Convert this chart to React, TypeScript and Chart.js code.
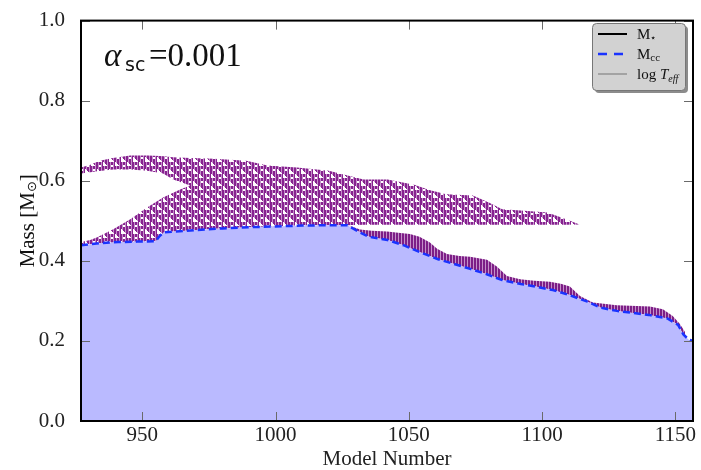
import React, { useEffect, useRef } from "react";
import { Chart, registerables } from "chart.js";

Chart.register(...registerables);

// ---- axis ranges / ticks ----
const X_MIN = 927;
const X_MAX = 1156.6;
const xTicks = [950, 1000, 1050, 1100, 1150];
const yTicks = [0, 0.2, 0.4, 0.6, 0.8, 1.0];

// ---- M_cc (convective core mass) ----
const mccModel = [927, 934, 941, 948, 955, 956.5, 958, 964, 970, 980, 990, 1000, 1010, 1020, 1027, 1029, 1032, 1035, 1042, 1048, 1054, 1061, 1067, 1073, 1079, 1085, 1092, 1098, 1104, 1110, 1117, 1122, 1128, 1134, 1140, 1147, 1151, 1153, 1155, 1156.6];
const mccMass = [0.439, 0.444, 0.447, 0.448, 0.449, 0.462, 0.471, 0.474, 0.477, 0.481, 0.484, 0.486, 0.488, 0.489, 0.489, 0.481, 0.470, 0.460, 0.452, 0.439, 0.422, 0.404, 0.392, 0.380, 0.367, 0.352, 0.342, 0.335, 0.327, 0.315, 0.298, 0.283, 0.275, 0.270, 0.265, 0.256, 0.240, 0.216, 0.203, 0.200];

// ---- upper mixing zone (top / bottom boundaries on one model grid) ----
const zoneModel = [927, 930.5, 934, 939, 945.5, 952, 956.5, 958, 961.5, 968, 977, 989, 997, 1008, 1020, 1027, 1033, 1042, 1052, 1058, 1064, 1074, 1080, 1085, 1092, 1102, 1109, 1114];
const zoneTopMass = [0.633, 0.640, 0.650, 0.657, 0.663, 0.663, 0.662, 0.661, 0.659, 0.657, 0.655, 0.650, 0.638, 0.633, 0.625, 0.613, 0.603, 0.603, 0.590, 0.576, 0.566, 0.563, 0.546, 0.529, 0.526, 0.521, 0.504, 0.491];
const zoneBottomMass = [0.439, 0.442, 0.444, 0.446, 0.447, 0.448, 0.449, 0.471, 0.473, 0.476, 0.480, 0.484, 0.486, 0.488, 0.489, 0.489, 0.490, 0.490, 0.490, 0.490, 0.490, 0.490, 0.490, 0.490, 0.490, 0.490, 0.490, 0.491];

// ---- unmixed wedge inside the zone (left) ----
const gapModel = [927, 930.5, 933.1, 939.1, 945.5, 951.8, 957.8, 961.6, 964.2, 968];
const gapUpperMass = [0.618, 0.621, 0.624, 0.628, 0.628, 0.625, 0.618, 0.603, 0.597, 0.588];
const gapLowerMass = [0.447, 0.452, 0.459, 0.479, 0.504, 0.533, 0.558, 0.570, 0.578, 0.588];

// ---- shell just above the receding core (right) ----
const shellModel = [1028, 1031.7, 1036, 1041.8, 1046, 1050.4, 1054, 1057.9, 1060.6, 1064.3, 1069, 1073, 1079.3, 1083, 1086.8, 1091.7, 1097, 1102.9, 1107, 1110.4, 1114.2, 1119, 1128, 1140.4, 1145.3, 1149, 1151.7, 1153.6];
const shellTopMass = [0.487, 0.478, 0.475, 0.473, 0.470, 0.467, 0.460, 0.446, 0.430, 0.417, 0.412, 0.410, 0.403, 0.386, 0.362, 0.354, 0.350, 0.348, 0.343, 0.336, 0.312, 0.296, 0.289, 0.286, 0.279, 0.262, 0.242, 0.222];

const SERIF = "'Liberation Serif', 'DejaVu Serif', serif";

function pts(xs: number[], ys: number[]) {
  return xs.map((x, i) => ({ x, y: ys[i] }));
}

function makePattern(sparse: boolean): CanvasPattern | string {
  const n = 12;
  const c = document.createElement("canvas");
  c.width = n;
  c.height = n;
  const g = c.getContext("2d");
  if (!g) return "#8a2a8f";
  for (let x = 0; x < n; x++) {
    g.fillStyle = x % 3 === 2 ? "#c490ca" : sparse ? "#86228f" : "#7d1e86";
    g.fillRect(x, 0, 1, n);
  }
  if (sparse) {
    g.fillStyle = "#ffffff";
    for (let r = 0; r < 5; r++) g.fillRect(1, 1 + r, r + 1, 1);
    for (let r = 0; r < 4; r++) g.fillRect(7, 6 + r, r + 1, 1);
    g.fillRect(9, 1, 2, 2);
    g.fillRect(3, 9, 2, 2);
  }
  const p = g.createPattern(c, "repeat");
  return p || "#8a2a8f";
}

const decor = {
  id: "decor",
  afterDatasetsDraw(chart: any) {
    const { ctx, chartArea: a, scales } = chart;
    ctx.save();
    ctx.strokeStyle = "#6a6a6a";
    ctx.lineWidth = 1;
    const L = 9;
    ctx.beginPath();
    for (const v of xTicks) {
      const px = Math.round(scales.x.getPixelForValue(v)) + 0.5;
      ctx.moveTo(px, a.bottom);
      ctx.lineTo(px, a.bottom - L);
      ctx.moveTo(px, a.top);
      ctx.lineTo(px, a.top + L);
    }
    for (const v of yTicks) {
      const py = Math.round(scales.y.getPixelForValue(v)) + 0.5;
      ctx.moveTo(a.left, py);
      ctx.lineTo(a.left + L, py);
      ctx.moveTo(a.right, py);
      ctx.lineTo(a.right - L, py);
    }
    ctx.stroke();
    ctx.strokeStyle = "#000";
    ctx.lineWidth = 2;
    ctx.strokeRect(a.left, a.top, a.right - a.left, a.bottom - a.top);

    // alpha_sc label
    ctx.fillStyle = "#111";
    ctx.textBaseline = "alphabetic";
    ctx.textAlign = "left";
    ctx.font = `italic 33px ${SERIF}`;
    ctx.fillText("\u03b1", 104, 66);
    ctx.font = "19px 'DejaVu Sans', sans-serif";
    ctx.fillText("sc", 125, 71);
    ctx.font = `33px ${SERIF}`;
    ctx.fillText("=0.001", 149, 66);

    // legend box
    const bx = 592, by = 23, bw = 93, bh = 67;
    ctx.fillStyle = "#8c8c8c";
    ctx.beginPath();
    ctx.roundRect(bx + 3, by + 3, bw, bh, 4);
    ctx.fill();
    ctx.fillStyle = "#d2d2d2";
    ctx.strokeStyle = "#777";
    ctx.lineWidth = 1;
    ctx.beginPath();
    ctx.roundRect(bx + 0.5, by + 0.5, bw, bh, 4);
    ctx.fill();
    ctx.stroke();

    const lx0 = 598, lx1 = 627, tx = 637;
    const rows = [34, 54, 74];
    ctx.setLineDash([]);
    ctx.strokeStyle = "#000";
    ctx.lineWidth = 2;
    ctx.beginPath();
    ctx.moveTo(lx0, rows[0]);
    ctx.lineTo(lx1, rows[0]);
    ctx.stroke();
    ctx.setLineDash([9, 7]);
    ctx.strokeStyle = "#1a33ff";
    ctx.lineWidth = 2.5;
    ctx.beginPath();
    ctx.moveTo(lx0, rows[1]);
    ctx.lineTo(lx1, rows[1]);
    ctx.stroke();
    ctx.setLineDash([]);
    ctx.strokeStyle = "#a3a3a3";
    ctx.lineWidth = 2;
    ctx.beginPath();
    ctx.moveTo(lx0, rows[2]);
    ctx.lineTo(lx1, rows[2]);
    ctx.stroke();

    ctx.fillStyle = "#111";
    ctx.textBaseline = "alphabetic";
    const base = (r: number) => r + 5;
    ctx.font = `15px ${SERIF}`;
    ctx.fillText("M", tx, base(rows[0]));
    let w = ctx.measureText("M").width;
    ctx.font = `10px ${SERIF}`;
    ctx.fillText("\u22c6", tx + w, base(rows[0]) + 2);

    ctx.font = `15px ${SERIF}`;
    ctx.fillText("M", tx, base(rows[1]));
    w = ctx.measureText("M").width;
    ctx.font = `11px ${SERIF}`;
    ctx.fillText("cc", tx + w, base(rows[1]) + 2);

    ctx.font = `15px ${SERIF}`;
    ctx.fillText("log ", tx, base(rows[2]));
    w = ctx.measureText("log ").width;
    ctx.font = `italic 15px ${SERIF}`;
    ctx.fillText("T", tx + w, base(rows[2]));
    w += ctx.measureText("T").width;
    ctx.font = `italic 10px ${SERIF}`;
    ctx.fillText("eff", tx + w, base(rows[2]) + 3);

    // y-axis title with subscript
    ctx.save();
    ctx.translate(28, (a.top + a.bottom) / 2);
    ctx.rotate(-Math.PI / 2);
    ctx.textBaseline = "middle";
    ctx.font = `21px ${SERIF}`;
    const p1 = "Mass [M";
    const p3 = "]";
    const w1 = ctx.measureText(p1).width;
    const w3 = ctx.measureText(p3).width;
    ctx.font = `13px 'DejaVu Sans', sans-serif`;
    const w2 = ctx.measureText("\u2299").width;
    const tot = w1 + w2 + w3;
    let x = -tot / 2;
    ctx.font = `21px ${SERIF}`;
    ctx.fillText(p1, x, 0);
    x += w1;
    ctx.font = `13px 'DejaVu Sans', sans-serif`;
    ctx.fillText("\u2299", x, 5);
    x += w2;
    ctx.font = `21px ${SERIF}`;
    ctx.fillText(p3, x, 0);
    ctx.restore();

    ctx.restore();
  },
};

export default function App() {
  const ref = useRef<HTMLCanvasElement | null>(null);

  useEffect(() => {
    if (!ref.current) return;
    const zonePattern = makePattern(true);
    const shellPattern = makePattern(false);
    const noLine = { borderWidth: 0, borderColor: "rgba(0,0,0,0)", pointRadius: 0, pointHoverRadius: 0, tension: 0 };
    const chart = new Chart(ref.current, {
      type: "line",
      data: {
        datasets: [
          {
            label: "Mcc",
            data: pts(mccModel, mccMass),
            borderColor: "#1a33ff",
            borderWidth: 2.5,
            borderDash: [7, 4],
            backgroundColor: "#babaff",
            fill: "origin",
            pointRadius: 0,
            tension: 0,
            order: 0,
          },
          {
            label: "zoneTop",
            data: pts(zoneModel, zoneTopMass),
            ...noLine,
            backgroundColor: zonePattern as any,
            fill: "+1",
            order: 5,
          },
          {
            label: "zoneBottom",
            data: pts(zoneModel, zoneBottomMass),
            ...noLine,
            fill: false,
            order: 5,
          },
          {
            label: "gapUpper",
            data: pts(gapModel, gapUpperMass),
            ...noLine,
            backgroundColor: "#ffffff",
            fill: "+1",
            order: 4,
          },
          {
            label: "gapLower",
            data: pts(gapModel, gapLowerMass),
            ...noLine,
            fill: false,
            order: 4,
          },
          {
            label: "shellTop",
            data: pts(shellModel, shellTopMass),
            ...noLine,
            backgroundColor: shellPattern as any,
            fill: 0,
            order: 3,
          },
        ],
      },
      options: {
        animation: false,
        responsive: false,
        maintainAspectRatio: false,
        layout: { padding: { left: 0, right: 8, top: 16, bottom: 0 } },
        plugins: {
          legend: { display: false },
          tooltip: { enabled: false },
        },
        scales: {
          x: {
            type: "linear",
            min: X_MIN,
            max: X_MAX,
            grid: { display: false },
            border: { display: false },
            afterBuildTicks: (s: any) => {
              s.ticks = xTicks.map((v) => ({ value: v }));
            },
            afterFit: (s: any) => {
              s.height = 49;
            },
            ticks: {
              color: "#222",
              padding: -6,
              font: { family: SERIF, size: 21 },
              callback: (v: any) => String(v),
              maxRotation: 0,
            },
            title: {
              display: true,
              text: "Model Number",
              color: "#222",
              font: { family: SERIF, size: 21, lineHeight: 1 },
              padding: { top: -1, bottom: 0 },
            },
          },
          y: {
            type: "linear",
            min: 0,
            max: 1,
            grid: { display: false },
            border: { display: false },
            afterBuildTicks: (s: any) => {
              s.ticks = yTicks.map((v) => ({ value: v }));
            },
            afterFit: (s: any) => {
              s.width = 81;
            },
            ticks: {
              color: "#222",
              padding: 8,
              font: { family: SERIF, size: 21 },
              callback: (v: any) => Number(v).toFixed(1),
            },
          },
        },
      },
      plugins: [decor],
    });
    return () => chart.destroy();
  }, []);

  return (
    <div style={{ position: "fixed", left: 0, top: 0, width: 701, height: 470, background: "#fff" }}>
      <canvas ref={ref} width={701} height={470} style={{ display: "block" }} />
    </div>
  );
}
